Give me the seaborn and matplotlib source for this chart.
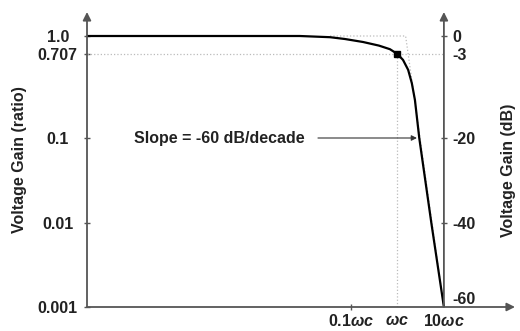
import numpy as np
import pandas as pd
import seaborn as sns
import matplotlib
matplotlib.use("Agg")
import matplotlib.pyplot as plt

# response: frequency in units of wc, gain in dB
freq = [2.1e-7, 0.0079, 0.0355, 0.074, 0.182, 0.40, 0.69, 1.0, 1.32, 1.70, 2.04, 2.38, 2.95, 5.37, 10.0]
gain_db = [0, 0, -0.2, -0.5, -1.0, -1.6, -2.2, -3, -4.2, -6.2, -8.9, -12.3, -20, -40, -60]

# straight-line asymptote (dotted)
asym_freq = [0.0355, 1.5, 10.0]
asym_db = [0, 0, -60]

# ticks
db_ticks = [0, -3, -20, -40, -60]
ratio_labels = ["1.0", "0.707", "0.1", "0.01", "0.001"]
db_labels = ["0", "-3", "-20", "-40", "-60"]
x_ticks = [0.1, 1.0, 10.0]
x_labels = [r"0.1$\omega c$", r"$\omega c$", r"10$\omega c$"]

corner_db = -3
corner_freq = 1.0
slope_db = -20
slope_text = "Slope = -60 dB/decade"

df = pd.DataFrame({"freq": freq, "gain": gain_db})

sns.set_style("white")
plt.rcParams["font.family"] = ["Liberation Sans", "DejaVu Sans"]
plt.rcParams["font.weight"] = "bold"
plt.rcParams["mathtext.fontset"] = "custom"
plt.rcParams["mathtext.it"] = "Liberation Sans:italic:bold"
plt.rcParams["mathtext.rm"] = "Liberation Sans:bold"

fs = 11.5
txt = "#222222"
axc = "#555555"
dot = "#bbbbbb"

fig = plt.figure(figsize=(5.2, 3.31), dpi=100)
ax = fig.add_axes([87 / 520, 24 / 331, 428 / 520, 295 / 331])

# the original plot is schematic: the dB axis is stretched near the top
knots_db = [-60, -40, -20, -3, 0, 4]
knots_px = [0, 84, 169, 253, 271, 295]
fwd = lambda v: np.interp(v, knots_db, knots_px)
inv = lambda p: np.interp(p, knots_px, knots_db)

ax.set_xscale("log")
ax.set_yscale("function", functions=(fwd, inv))
ax.set_xlim(10 ** -6.68, 10 ** 2.53)
ax.set_ylim(-60, 4)

# guide lines
ax.plot([ax.get_xlim()[0], 10.0], [corner_db, corner_db], ls=":", color=dot, lw=0.9)
ax.plot([corner_freq, corner_freq], [corner_db, -60], ls=":", color=dot, lw=0.9)
ax.plot(asym_freq, asym_db, ls=":", color=dot, lw=0.9)

sns.lineplot(data=df, x="freq", y="gain", ax=ax, color="black", lw=1.6, sort=False)
ax.plot([corner_freq], [corner_db], "s", color="black", ms=4)
ax.set_xlabel("")
ax.set_ylabel("")

for s in ax.spines.values():
    s.set_visible(False)

# axes as arrows
arr = dict(arrowstyle="-|>", color=axc, lw=1.3, mutation_scale=12, shrinkA=0, shrinkB=0)
ax.annotate("", xy=(0, 1), xytext=(0, 0), xycoords="axes fraction", arrowprops=arr)
ax.annotate("", xy=(1, 0), xytext=(0, 0), xycoords="axes fraction", arrowprops=arr)
ax.annotate("", xy=(10.0, 1), xytext=(10.0, 0), xycoords=("data", "axes fraction"),
            textcoords=("data", "axes fraction"), arrowprops=arr)

# left ticks
ax.set_yticks(db_ticks)
ax.set_yticklabels(ratio_labels, fontsize=fs, color=txt, fontweight="bold")
ax.tick_params(axis="y", direction="inout", length=5, width=1, color=axc, pad=18.5, left=True)
plt.setp(ax.get_yticklabels(), ha="center")
for i, t in enumerate(ax.yaxis.get_major_ticks()):
    if db_ticks[i] in (0, -3, -60):
        t.tick1line.set_visible(False)

# bottom ticks
ax.xaxis.set_minor_locator(matplotlib.ticker.NullLocator())
ax.set_xticks(x_ticks)
ax.set_xticklabels(x_labels, fontsize=fs, color=txt, fontweight="bold")
ax.tick_params(axis="x", direction="inout", length=5, width=1, color=axc, pad=2, bottom=True)
for i, t in enumerate(ax.xaxis.get_major_ticks()):
    if x_ticks[i] != 0.1:
        t.tick1line.set_visible(False)

# right dB axis
ax2 = ax.twinx()
ax2.set_yscale("function", functions=(fwd, inv))
ax2.set_ylim(-60, 4)
for s in ax2.spines.values():
    s.set_visible(False)
ax2.spines["right"].set_position(("data", 10.0))
ax2.set_yticks(db_ticks)
ax2.set_yticklabels(db_labels, fontsize=fs, color=txt, fontweight="bold")
ax2.tick_params(axis="y", direction="inout", length=5, width=1, color=axc, pad=3.5, right=True)
for i, t in enumerate(ax2.yaxis.get_major_ticks()):
    if db_ticks[i] in (-3, -60):
        t.tick2line.set_visible(False)
    if db_ticks[i] == -60:
        t.label2.set_va("bottom")

# slope annotation
ax.text(0.0102, slope_db, slope_text, ha="right", va="center", fontsize=fs, color=txt,
        fontweight="bold")
ax.annotate("", xy=(2.63, slope_db), xytext=(0.0195, slope_db),
            arrowprops=dict(arrowstyle="-|>", color="#333333", lw=0.8, mutation_scale=8,
                            shrinkA=0, shrinkB=0))

fig.text(19.5 / 520, 1 - 160 / 331, "Voltage Gain (ratio)", rotation=90, ha="center",
         va="center", fontsize=fs, color=txt, fontweight="bold")
fig.text(509 / 520, 1 - 170 / 331, "Voltage Gain (dB)", rotation=90, ha="center",
         va="center", fontsize=fs, color=txt, fontweight="bold")

fig.savefig("out.png", dpi=100)
